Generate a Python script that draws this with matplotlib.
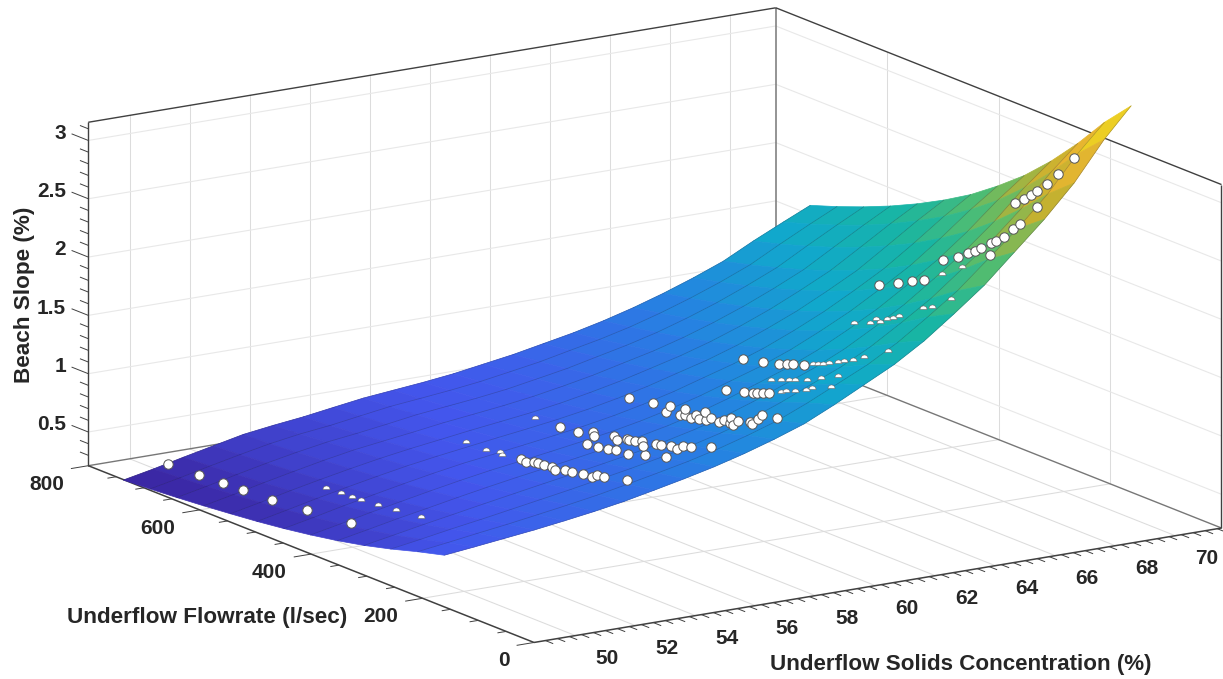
import numpy as np
import matplotlib
matplotlib.use("Agg")
import matplotlib.pyplot as plt
from matplotlib.colors import LinearSegmentedColormap
from matplotlib.markers import MarkerStyle
from mpl_toolkits.mplot3d import proj3d

# ---------- data ----------
conc_limits = (48.62, 71.54)
flow_limits = (0.0, 800.0)
slope_limits = (0.211, 3.156)

conc_ticks = [50, 52, 54, 56, 58, 60, 62, 64, 66, 68, 70]
flow_ticks = [0, 200, 400, 600, 800]
slope_ticks = [0.5, 1, 1.5, 2, 2.5, 3]
slope_tick_labels = ["0.5", "1", "1.5", "2", "2.5", "3"]

surf_conc = [48.6, 49.6, 50.6, 51.6, 52.6, 53.6, 54.6, 55.6, 56.6, 57.6, 58.6, 59.6,
             60.6, 61.6, 62.6, 63.6, 64.6, 65.6, 66.6, 67.6, 68.6, 69.6, 70.6, 71.5]
surf_flow = [160, 208, 256, 304, 352, 400, 448, 496, 544, 592, 640, 688, 736]
surf_slope = [
    [.657, .685, .715, .745, .78, .818, .862, .915, .97, 1.03, 1.10, 1.18, 1.27, 1.39, 1.52, 1.65, 1.81, 2.00, 2.20, 2.44, 2.68, 2.95, 3.28, 3.53],
    [.596, .631, .668, .703, .742, .782, .825, .875, .928, .983, 1.047, 1.122, 1.206, 1.315, 1.436, 1.557, 1.704, 1.879, 2.063, 2.286, 2.509, 2.762, 3.065, 3.297],
    [.528, .569, .613, .653, .696, .739, .782, .829, .876, .928, .985, 1.052, 1.130, 1.228, 1.338, 1.446, 1.579, 1.737, 1.904, 2.104, 2.307, 2.542, 2.815, 3.025],
    [.468, .515, .563, .608, .654, .698, .742, .784, .829, .875, .928, .989, 1.060, 1.148, 1.247, 1.346, 1.465, 1.608, 1.761, 1.941, 2.128, 2.344, 2.591, 2.782],
    [.418, .468, .520, .567, .616, .662, .705, .745, .786, .829, .876, .931, .997, 1.076, 1.166, 1.256, 1.365, 1.495, 1.634, 1.797, 1.968, 2.168, 2.392, 2.568],
    [.376, .428, .483, .533, .583, .630, .673, .710, .748, .788, .831, .882, .943, 1.014, 1.097, 1.179, 1.279, 1.397, 1.525, 1.674, 1.831, 2.020, 2.223, 2.387],
    [.340, .393, .450, .502, .553, .601, .644, .678, .714, .751, .790, .837, .893, .958, 1.035, 1.111, 1.201, 1.309, 1.428, 1.565, 1.711, 1.887, 2.073, 2.223],
    [.310, .365, .422, .475, .525, .572, .612, .648, .684, .718, .755, .798, .850, .910, .981, 1.051, 1.135, 1.235, 1.344, 1.471, 1.606, 1.774, 1.945, 2.085],
    [.285, .339, .397, .450, .500, .546, .586, .621, .657, .689, .722, .762, .811, .866, .931, .997, 1.075, 1.166, 1.269, 1.387, 1.513, 1.670, 1.829, 1.962],
    [.262, .316, .374, .428, .480, .526, .561, .595, .632, .662, .693, .730, .776, .827, .888, .948, 1.021, 1.106, 1.202, 1.311, 1.430, 1.579, 1.726, 1.852],
    [.242, .296, .354, .409, .459, .503, .535, .571, .610, .638, .666, .700, .745, .791, .849, .906, .972, 1.052, 1.142, 1.245, 1.357, 1.499, 1.636, 1.754],
    [.225, .278, .336, .391, .442, .482, .512, .551, .589, .615, .642, .674, .716, .759, .813, .866, .929, 1.004, 1.089, 1.184, 1.290, 1.425, 1.554, 1.665],
    [.21, .262, .32, .375, .43, .465, .495, .533, .57, .595, .62, .65, .69, .73, .78, .83, .89, .96, 1.04, 1.13, 1.23, 1.36, 1.48, 1.585],
]

# measured points, one series per concentration
c50_flow = [731, 676, 633, 596, 544, 482, 403]
c50_slope = [.298, .306, .318, .327, .347, .378, .413]
c51_flow = [502, 475, 455, 439, 409, 375, 331]
c51_slope = [.471, .479, .490, .489, .507, .524, .549]
c56_flow = [520, 484, 458, 454, 420, 411, 398, 391, 379, 365, 359, 341, 330, 310, 294, 285, 272, 231]
c56_slope = [.618, .623, .654, .638, .671, .660, .687, .689, .700, .712, .692, .731, .733, .753, .759, .790, .801, .854]
c576_flow = [389, 368, 351, 337, 314, 284, 247]
c576_slope = [.792, .809, .823, .841, .848, .899, .952]
c586_flow = [535, 491, 458, 431, 429, 394, 389, 371, 366, 356, 343, 341, 319, 310, 292, 280, 270, 256, 219]
c586_slope = [.683, .700, .718, .775, .744, .807, .781, .829, .829, .840, .861, .825, .884, .893, .918, .908, .957, .973, 1.043]
c606_flow = [475, 432, 401, 408, 374, 383, 374, 364, 354, 349, 338, 336, 327, 313, 304, 292, 294, 288, 278, 258, 254, 243, 236, 208]
c606_slope = [.897, .932, .966, .900, .993, .925, .937, .932, .976, .950, 1.037, .967, 1.000, .992, 1.028, 1.073, 1.025, 1.017, 1.067, 1.100, 1.090, 1.152, 1.203, 1.232]
c626_flow = [408, 376, 359, 352, 342, 331, 309, 300, 284, 264, 253, 220]
c626_slope = [1.000, 1.045, 1.073, 1.086, 1.104, 1.124, 1.163, 1.190, 1.226, 1.270, 1.304, 1.377]
c635_flow = [375, 358, 344, 332, 312, 286, 256]
c635_slope = [1.107, 1.136, 1.162, 1.186, 1.226, 1.287, 1.368]
c64_flow = [453, 417, 389, 374, 363, 343, 328, 319, 310, 298, 283, 271, 255, 236, 193]
c64_slope = [1.121, 1.163, 1.203, 1.231, 1.250, 1.285, 1.307, 1.326, 1.347, 1.372, 1.409, 1.443, 1.485, 1.545, 1.678]
c66_flow = [362, 333, 321, 315, 303, 292, 281, 238, 221, 188]
c66_slope = [1.510, 1.564, 1.624, 1.607, 1.658, 1.689, 1.728, 1.875, 1.915, 2.044]
c67_flow = [370, 336, 311, 290, 258, 222]
c67_slope = [1.790, 1.867, 1.934, 1.986, 2.088, 2.214]
c686_flow = [341, 314, 296, 284, 273, 255, 247, 233, 216, 204, 257]
c686_slope = [1.991, 2.067, 2.132, 2.174, 2.220, 2.297, 2.334, 2.395, 2.491, 2.558, 2.193]
c70_flow = [287, 271, 259, 248, 231, 210, 182, 249]
c70_slope = [2.518, 2.587, 2.642, 2.696, 2.790, 2.915, 3.105, 2.554]

xlabel_text = "Underflow Solids Concentration (%)"
ylabel_text = "Underflow Flowrate (l/sec)"
zlabel_text = "Beach Slope (%)"

# (concentration, flows, slopes, first index shown whole, last index shown whole)
point_series = [
    (50.0, c50_flow, c50_slope, 0, 7),
    (51.0, c51_flow, c51_slope, 0, 0),
    (56.0, c56_flow, c56_slope, 4, 18),
    (57.6, c576_flow, c576_slope, 0, 7),
    (58.6, c586_flow, c586_slope, 1, 19),
    (60.6, c606_flow, c606_slope, 0, 24),
    (62.6, c626_flow, c626_slope, 0, 6),
    (63.5, c635_flow, c635_slope, 0, 0),
    (64.0, c64_flow, c64_slope, 0, 6),
    (66.0, c66_flow, c66_slope, 0, 0),
    (67.0, c67_flow, c67_slope, 0, 4),
    (68.6, c686_flow, c686_slope, 0, 11),
    (70.0, c70_flow, c70_slope, 0, 8),
]

# ---------- figure ----------
W, H = 1223, 679
fig = plt.figure(figsize=(W / 100, H / 100), dpi=100, facecolor="white")
ax = fig.add_axes([0, 0, 1, 1], projection="3d", proj_type="ortho", computed_zorder=False)
ax.set_xlim(*conc_limits, view_margin=0)
ax.set_ylim(*flow_limits, view_margin=0)
ax.set_zlim(*slope_limits, view_margin=0)
ax.view_init(elev=14.89, azim=-122.94)
ax.set_box_aspect((819, 819.5, 355.3))
ax.set_axis_off()
ax.patch.set_alpha(0)


def to_px(c, f, z):
    x, y, _ = proj3d.proj_transform(c, f, z, ax.get_proj())
    return ax.transData.transform((x, y))


def place(cx, cy, side):
    ax.set_position([(cx - side / 2) / W, (cy - side / 2) / H, side / W, side / H])
    ax.apply_aspect()


c0, c1 = conc_limits
f0, f1 = flow_limits
z0, z1 = slope_limits
cx, cy, side = W / 2, H / 2, 679.0
place(cx, cy, side)
pL = to_px(c0, f1, z0)
pR = to_px(c1, f0, z0)
side *= (1221.5 - 88.3) / (pR[0] - pL[0])
place(cx, cy, side)
pL = to_px(c0, f1, z0)
cx += 88.3 - pL[0]
cy += (H - 465.7) - pL[1]
place(cx, cy, side)

GRID = "#dcdcdc"
GRIDZ = "#e8e8e8"
DARK = "#404040"
BACK = "#777777"


def seg(a, b, color, lw, zo):
    ax.plot([a[0], b[0]], [a[1], b[1]], [a[2], b[2]], color=color, lw=lw, zorder=zo,
            solid_capstyle="butt")


# grid
for c in conc_ticks:
    seg((c, f0, z0), (c, f1, z0), GRID, 0.75, 1)
    seg((c, f1, z0), (c, f1, z1), GRID, 0.75, 1)
for f in flow_ticks[1:-1]:
    seg((c0, f, z0), (c1, f, z0), GRID, 0.75, 1)
    seg((c1, f, z0), (c1, f, z1), GRID, 0.75, 1)
for z in slope_ticks:
    seg((c0, f1, z), (c1, f1, z), GRIDZ, 0.8, 1)
    seg((c1, f1, z), (c1, f0, z), GRIDZ, 0.8, 1)

# box
seg((c0, f1, z0), (c1, f1, z0), BACK, 1.0, 2)
seg((c1, f1, z0), (c1, f0, z0), BACK, 1.0, 2)
seg((c1, f1, z0), (c1, f1, z1), BACK, 1.1, 2)
seg((c0, f1, z1), (c1, f1, z1), DARK, 1.0, 2)
seg((c1, f1, z1), (c1, f0, z1), DARK, 1.0, 2)
seg((c0, f1, z0), (c0, f1, z1), DARK, 1.0, 2)
seg((c1, f0, z0), (c1, f0, z1), DARK, 1.0, 2)
seg((c0, f1, z0), (c0, f0, z0), DARK, 1.1, 2)
seg((c0, f0, z0), (c1, f0, z0), DARK, 1.1, 2)

# ticks
for c in np.arange(49.0, 71.5, 0.4):
    major = abs(c / 2 - round(c / 2)) < 1e-6 and 50 <= c <= 70
    seg((c, f0, z0), (c, f0 - (28 if major else 14), z0), DARK, 0.7, 2)
for f in np.arange(0, 801, 50):
    major = f % 200 == 0
    seg((c0, f, z0), (c0 - (0.58 if major else 0.29), f, z0), DARK, 0.7, 2)
for z in np.arange(0.3, 3.11, 0.1):
    major = abs(z * 2 - round(z * 2)) < 1e-6
    seg((c0, f1, z), (c0, f1 + (30 if major else 15), z), DARK, 0.7, 2)

# surface
parula = LinearSegmentedColormap.from_list("parula", [
    (0.0, (0.2422, 0.1504, 0.6603)),
    (0.125, (0.2780, 0.3556, 0.9777)),
    (0.25, (0.1540, 0.5400, 0.9300)),
    (0.375, (0.0689, 0.6948, 0.8394)),
    (0.5, (0.1000, 0.7500, 0.6700)),
    (0.625, (0.3500, 0.7800, 0.4500)),
    (0.75, (0.8000, 0.7300, 0.2000)),
    (0.875, (0.9700, 0.7500, 0.2000)),
    (1.0, (0.9769, 0.9839, 0.0805)),
])
C, F = np.meshgrid(surf_conc, surf_flow)
Z = np.array(surf_slope)
mean_z = (Z[:-1, :-1] + Z[1:, :-1] + Z[:-1, 1:] + Z[1:, 1:]) / 4
rgba = parula((mean_z - Z.min()) / (Z.max() - Z.min()))
rgba[..., :3] *= 0.95
ax.plot_surface(C, F, Z, facecolors=rgba, rstride=1, cstride=1,
                shade=False, linewidth=0.5, antialiased=True, zorder=3)
for k in range(len(surf_flow)):
    ax.plot(surf_conc, [surf_flow[k]] * len(surf_conc), Z[k], color="#101030", lw=0.45,
            alpha=0.3, zorder=4)

# points: whole markers, and domes for those half sunk into the surface
dome = MarkerStyle("o", fillstyle="top")
for conc, flows, slopes, i0, i1 in point_series:
    flows = np.array(flows, float)
    slopes = np.array(slopes, float)
    idx = np.arange(len(flows))
    whole = (idx >= i0) & (idx < i1)
    cc = np.full(len(flows), conc)
    ax.scatter(cc[~whole], flows[~whole], slopes[~whole], s=26, marker=dome, c="white",
               edgecolors="#666666", linewidths=0.4, depthshade=False, zorder=5)
    ax.scatter(cc[whole], flows[whole], slopes[whole], s=46, c="white", edgecolors="#555555",
               linewidths=0.7, depthshade=False, zorder=6)

# labels as figure text, positioned from the projected tick points
TXT = "#262626"
FONT = dict(family="Liberation Sans", fontweight="bold", color=TXT)


def label(px, py, s, size=15, ha="center", va="center", rotation=0):
    fig.text(px / W, 1 - py / H, s, fontsize=size, ha=ha, va=va, rotation=rotation, **FONT)


for c in conc_ticks:
    p = to_px(c, f0, z0)
    label(p[0] + 31.4, H - p[1] + 23, str(c))
for f in flow_ticks:
    p = to_px(c0, f, z0)
    label(p[0] - 24.5, H - p[1] + 18.3, str(f), ha="right")
for z, t in zip(slope_ticks, slope_tick_labels):
    p = to_px(c0, f1, z)
    label(p[0] - 22.3, H - p[1] - 7.2, t, ha="right")

label(961, 664.5, xlabel_text, size=16.1)
label(207.5, 617.5, ylabel_text, size=16.2)
label(24.5, 295, zlabel_text, size=16.2, rotation=90)

fig.savefig("out.png", dpi=100, facecolor="white")
